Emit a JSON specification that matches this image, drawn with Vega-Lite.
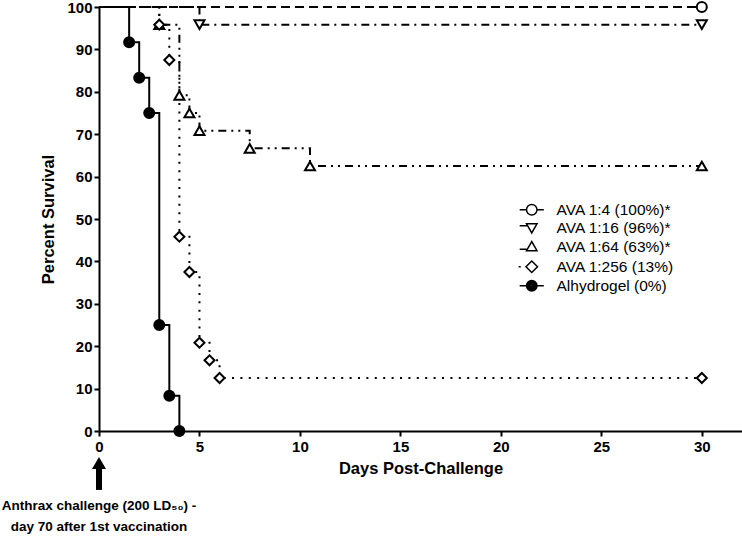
{
  "$schema": "https://vega.github.io/schema/vega-lite/v6.json",
  "width": 643,
  "height": 424,
  "autosize": {"type": "none"},
  "padding": {"left": 99, "top": 7, "right": 0, "bottom": 109},
  "background": "white",
  "config": {
    "view": {"stroke": null},
    "font": "Liberation Sans",
    "axis": {
      "domainColor": "black", "domainWidth": 2, "tickColor": "black", "tickWidth": 2, "tickSize": 5,
      "grid": false, "labelColor": "black", "titleColor": "black", "labelFontSize": 15, "labelFontWeight": "bold",
      "titleFontSize": 16.5, "titleFontWeight": "bold", "labelFlush": false, "labelOverlap": false, "labelFont": "Liberation Sans", "titleFont": "Liberation Sans"
    }
  },
  "data": {"values": [
    {"group": "AVA 1:4 (100%)*", "day": 0, "pct": 100},
    {"group": "AVA 1:4 (100%)*", "day": 30, "pct": 100},
    {"group": "AVA 1:16 (96%)*", "day": 0, "pct": 100},
    {"group": "AVA 1:16 (96%)*", "day": 5, "pct": 95.83},
    {"group": "AVA 1:16 (96%)*", "day": 30, "pct": 95.83},
    {"group": "AVA 1:64 (63%)*", "day": 0, "pct": 100},
    {"group": "AVA 1:64 (63%)*", "day": 3, "pct": 95.83},
    {"group": "AVA 1:64 (63%)*", "day": 4, "pct": 79.17},
    {"group": "AVA 1:64 (63%)*", "day": 4.5, "pct": 75},
    {"group": "AVA 1:64 (63%)*", "day": 5, "pct": 70.83},
    {"group": "AVA 1:64 (63%)*", "day": 7.5, "pct": 66.67},
    {"group": "AVA 1:64 (63%)*", "day": 10.5, "pct": 62.5},
    {"group": "AVA 1:64 (63%)*", "day": 30, "pct": 62.5},
    {"group": "AVA 1:256 (13%)", "day": 0, "pct": 100},
    {"group": "AVA 1:256 (13%)", "day": 3, "pct": 95.83},
    {"group": "AVA 1:256 (13%)", "day": 3.5, "pct": 87.5},
    {"group": "AVA 1:256 (13%)", "day": 4, "pct": 45.83},
    {"group": "AVA 1:256 (13%)", "day": 4.5, "pct": 37.5},
    {"group": "AVA 1:256 (13%)", "day": 5, "pct": 20.83},
    {"group": "AVA 1:256 (13%)", "day": 5.5, "pct": 16.67},
    {"group": "AVA 1:256 (13%)", "day": 6, "pct": 12.5},
    {"group": "AVA 1:256 (13%)", "day": 30, "pct": 12.5},
    {"group": "Alhydrogel (0%)", "day": 0, "pct": 100},
    {"group": "Alhydrogel (0%)", "day": 1.5, "pct": 91.67},
    {"group": "Alhydrogel (0%)", "day": 2, "pct": 83.33},
    {"group": "Alhydrogel (0%)", "day": 2.5, "pct": 75},
    {"group": "Alhydrogel (0%)", "day": 3, "pct": 25},
    {"group": "Alhydrogel (0%)", "day": 3.5, "pct": 8.33},
    {"group": "Alhydrogel (0%)", "day": 4, "pct": 0}
  ]},
  "layer": [
    {
      "mark": {"type": "line", "interpolate": "step-after", "strokeWidth": 2, "color": "black", "strokeCap": "butt"},
      "encoding": {
        "x": {"field": "day", "type": "quantitative", "scale": {"domain": [0, 32], "nice": false},
              "axis": {"values": [0, 5, 10, 15, 20, 25, 30], "title": "Days Post-Challenge", "labelPadding": 3, "titlePadding": 6}},
        "y": {"field": "pct", "type": "quantitative", "scale": {"domain": [0, 100], "nice": false},
              "axis": {"values": [0, 10, 20, 30, 40, 50, 60, 70, 80, 90, 100], "title": "Percent Survival", "labelPadding": 2, "titlePadding": 10}},
        "strokeDash": {"field": "group", "type": "nominal", "legend": null,
          "scale": {"domain": ["AVA 1:4 (100%)*", "AVA 1:16 (96%)*", "AVA 1:64 (63%)*", "AVA 1:256 (13%)", "Alhydrogel (0%)"],
                    "range": [[9, 5], [8, 5, 2, 5], [8, 5, 2, 5, 2, 5], [2, 6.4], [1, 0]]}}
      }
    },
    {
      "transform": [{"filter": "datum.day > 0"}],
      "mark": {"type": "point", "filled": true, "stroke": "black", "strokeWidth": 2, "size": 100, "opacity": 1},
      "encoding": {
        "x": {"field": "day", "type": "quantitative"},
        "y": {"field": "pct", "type": "quantitative"},
        "shape": {"field": "group", "type": "nominal", "legend": null,
          "scale": {"domain": ["AVA 1:4 (100%)*", "AVA 1:16 (96%)*", "AVA 1:64 (63%)*", "AVA 1:256 (13%)", "Alhydrogel (0%)"],
                    "range": ["circle", "triangle-down", "triangle-up", "diamond", "circle"]}},
        "fill": {"field": "group", "type": "nominal", "legend": null,
          "scale": {"domain": ["AVA 1:4 (100%)*", "AVA 1:16 (96%)*", "AVA 1:64 (63%)*", "AVA 1:256 (13%)", "Alhydrogel (0%)"],
                    "range": ["white", "white", "white", "white", "black"]}}
      }
    },
    {
      "transform": [{"filter": "datum.day > 0"}],
      "mark": {"type": "point", "filled": true, "fill": "white", "stroke": "black", "strokeWidth": 2, "size": 100, "opacity": 0},
      "encoding": {
        "x": {"field": "day", "type": "quantitative"},
        "y": {"field": "pct", "type": "quantitative"},
        "shape": {"field": "group", "type": "nominal",
          "scale": {"domain": ["AVA 1:4 (100%)*", "AVA 1:16 (96%)*", "AVA 1:64 (63%)*", "AVA 1:256 (13%)", "Alhydrogel (0%)"],
                    "range": [
                      "M-2.3,0H-1M1,0H2.3M-1,0A1,1,0,1,1,1,0A1,1,0,1,1,-1,0Z",
                      "M-2.3,-0.4H-0.8M-1,-0.75L1,-0.75L0,1Z",
                      "M-2.3,0.5H-0.8M-1,0.75L1,0.75L0,-1Z",
                      "M-2.5,0H-2.1M-1.1,0L0,-1.1L1.1,0L0,1.1Z",
                      "M-2.3,0H-1M1,0H2.3M-1,0A1,1,0,1,1,1,0A1,1,0,1,1,-1,0ZM-0.8,0A0.8,0.8,0,1,1,0.8,0A0.8,0.8,0,1,1,-0.8,0ZM-0.6,0A0.6,0.6,0,1,1,0.6,0A0.6,0.6,0,1,1,-0.6,0ZM-0.4,0A0.4,0.4,0,1,1,0.4,0A0.4,0.4,0,1,1,-0.4,0ZM-0.2,0A0.2,0.2,0,1,1,0.2,0A0.2,0.2,0,1,1,-0.2,0ZM-0.05,0A0.05,0.05,0,1,1,0.05,0A0.05,0.05,0,1,1,-0.05,0Z"
                    ]},
          "legend": {"title": null, "orient": "none", "legendX": 425, "legendY": 195, "symbolSize": 110,
                     "labelFontSize": 15.5, "labelFont": "Liberation Sans",
                     "labelColor": "black", "labelOffset": 17, "rowPadding": 1,
                     "encode": {"symbols": {"update": {
                       "opacity": {"value": 1}, "fillOpacity": {"value": 1}, "strokeOpacity": {"value": 1},
                       "stroke": {"value": "black"}, "strokeWidth": {"value": 2}, "fill": {"value": "white"}
                     }}}}}
      }
    },
    {
      "data": {"values": [{}]},
      "mark": {"type": "rule", "strokeWidth": 6, "color": "black", "strokeCap": "butt"},
      "encoding": {"x": {"datum": 0, "type": "quantitative"}, "y": {"datum": -8.3, "type": "quantitative"}, "y2": {"datum": -13.9}}
    },
    {
      "data": {"values": [{}]},
      "mark": {"type": "point", "shape": "triangle-up", "filled": true, "color": "black", "size": 196, "opacity": 1},
      "encoding": {"x": {"datum": 0, "type": "quantitative"}, "y": {"datum": -7.55, "type": "quantitative"}}
    },
    {
      "data": {"values": [{}]},
      "mark": {"type": "text", "text": ["Anthrax challenge (200 LD₅₀) -", "day 70 after 1st vaccination"], "align": "center", "baseline": "top",
               "fontWeight": "bold", "fontSize": 13.5, "lineHeight": 21, "color": "black", "font": "Liberation Sans"},
      "encoding": {"x": {"datum": 0, "type": "quantitative"}, "y": {"datum": -16, "type": "quantitative"}}
    }
  ],
  "resolve": {"scale": {"shape": "independent"}}
}
